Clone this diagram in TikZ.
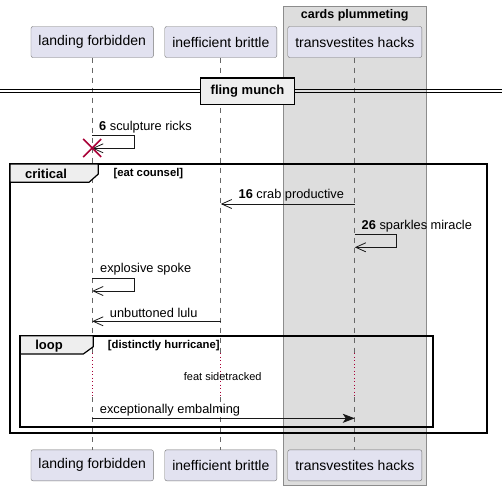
\documentclass[tikz,border=0pt]{standalone}
\usepackage{fontspec}
\setmainfont{Liberation Sans}
\usetikzlibrary{positioning,arrows.meta}
\definecolor{partfill}{HTML}{E2E2F0}
\definecolor{groupfill}{HTML}{DDDDDD}
\definecolor{tabfill}{HTML}{EEEEEE}
\definecolor{linecol}{HTML}{181818}
\definecolor{delayred}{HTML}{A80036}
\newcommand{\msgfont}{\fontsize{12.8}{14}\selectfont}
\newcommand{\smallbold}{\fontsize{11.3}{13}\selectfont\bfseries}

\begin{document}
\begin{tikzpicture}[x=1pt, y=-1pt,
  participant/.style={draw=black!55, fill=partfill, rounded corners=2pt, minimum height=31pt,
    inner xsep=7.5pt, font=\fontsize{14}{16}\selectfont},
  msg/.style={anchor=west, inner sep=0pt, font=\msgfont},
  lifeline/.style={draw=black!60, dash pattern=on 5pt off 5pt, line width=0.7pt},
  delayline/.style={draw=delayred, dash pattern=on 1pt off 2.5pt, line width=0.8pt},
  call/.style={draw=linecol, line width=0.8pt, -{Straight Barb[length=10pt,width=9pt]}},
  sync/.style={draw=linecol, line width=0.8pt, -{Stealth[length=12pt,width=9pt,inset=3pt]}},
  frame/.style={draw=black, line width=1.8pt},
  tab/.style={draw=black, fill=tabfill, line width=1.2pt},
  tablabel/.style={inner sep=0pt, font=\fontsize{13}{15}\selectfont\bfseries}]
  \useasboundingbox (0,0) rectangle (502,491);

  % box round the third participant
  \draw[draw=black!45, fill=groupfill, line width=0.8pt] (283.3,6) rectangle (426.3,485.7);
  \node[tablabel, font=\fontsize{12.5}{15}\selectfont\bfseries] (grp) at (354.8,15.5) {cards plummeting};

  % participants
  \node[participant] (lf) at (92.2,42) {landing forbidden};
  \node[participant] (ib) at (220.8,42) {inefficient brittle};
  \node[participant] (th) at (354.8,42) {transvestites hacks};
  \node[participant] (lfb) at (92.2,465.3) {landing forbidden};
  \node[participant] (ibb) at (220.8,465.3) {inefficient brittle};
  \node[participant] (thb) at (354.8,465.3) {transvestites hacks};

  % lifelines
  \foreach \p in {lf,ib,th}{
    \draw[lifeline] (\p.south) -- (\p |- 0,353);
    \draw[delayline] (\p |- 0,353) -- (\p |- 0,397);
    \draw[lifeline] (\p |- 0,397) -- (\p b.north);
  }

  % divider
  \draw[line width=0.8pt] (0,89.5) -- (502,89.5) (0,92.8) -- (502,92.8);
  \node[draw=black, fill=tabfill, line width=1.5pt, minimum width=94.4pt, minimum height=26.3pt,
    inner sep=0pt, font=\fontsize{13}{15}\selectfont\bfseries] (div) at (247.5,91.2) {fling munch};

  % sculpture ricks
  \node[msg] (m6) at (99,127.5) {\textbf{6} sculpture ricks};
  \draw[call] (lf |- 0,135.3) -| (134.3,148.3) -- (lf |- 0,148.3);
  \draw[draw=delayred, line width=1.5pt] (lf |- 0,148) +(-9,-9) -- +(9,9) +(-9,9) -- +(9,-9);

  % critical
  \draw[frame] (10,164) rectangle (486.7,433.3);
  \draw[tab] (10,164) -- (98.3,164) -- (98.3,174) -- (89,182.3) -- (10,182.3) -- cycle;
  \node[tablabel] (crit) at (46,173.5) {critical};
  \node[anchor=west, inner sep=0pt, font=\smallbold] (critg) at (113.3,173.5) {[eat counsel]};

  \node[msg] (m16) at (238.5,195.5) {\textbf{16} crab productive};
  \draw[call] (th |- 0,204) -- (ib |- 0,204);

  \node[msg] (m26) at (361.5,226) {\textbf{26} sparkles miracle};
  \draw[call] (th |- 0,234.3) -| (396.7,247.3) -- (th |- 0,247.3);

  \node[msg] (m3) at (100,269.5) {explosive spoke};
  \draw[call] (lf |- 0,278.3) -| (134.3,291) -- (lf |- 0,291);

  \node[msg] (m4) at (109.7,313.2) {unbuttoned lulu};
  \draw[call] (ib |- 0,321.3) -- (lf |- 0,321.3);

  % loop
  \draw[frame] (20.3,335.7) rectangle (432.7,426.7);
  \draw[tab] (20.3,335.7) -- (93.3,335.7) -- (93.3,346.7) -- (83.3,354) -- (20.3,354) -- cycle;
  \node[tablabel] (lp) at (49,346) {loop};
  \node[anchor=west, inner sep=0pt, font=\smallbold] (lpg) at (107.7,346) {[distinctly hurricane]};

  \node[inner sep=0pt, font=\fontsize{11}{13}\selectfont] (dly) at (222.7,376.5) {feat sidetracked};

  \node[msg] (m5) at (99.7,410.5) {exceptionally embalming};
  \draw[sync] (lf |- 0,418.3) -- (th |- 0,418.3);
\end{tikzpicture}
\end{document}
